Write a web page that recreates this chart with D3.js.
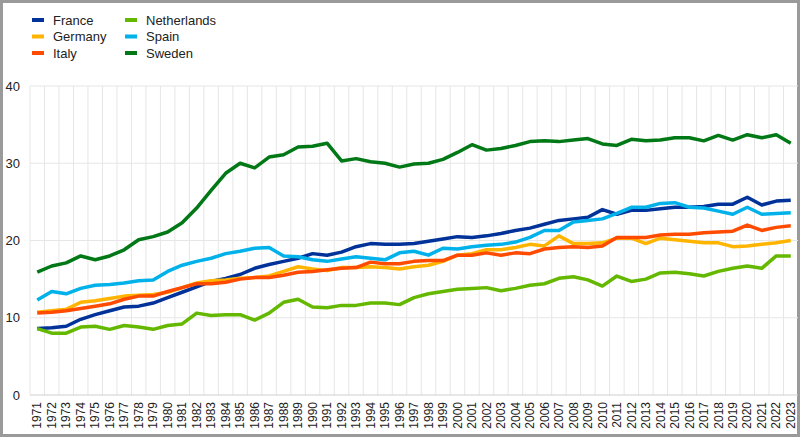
<!DOCTYPE html>
<html lang="en">
<head>
<meta charset="UTF-8">
<title>Chart</title>
<script src="https://d3js.org/d3.v7.min.js"></script>
<style>
  body { margin: 0; background: #fff; }
  text { font-family: "Liberation Sans", Arial, sans-serif; fill: #222; }
</style>
</head>
<body>
<div id="chart"></div>
<script>
// years on the x axis
var years = d3.range(1971, 2024)

var yTicks = [0, 10, 20, 30, 40]

var countries = ["France", "Germany", "Italy", "Netherlands", "Spain", "Sweden"]

var france = [8.6, 8.7, 8.9, 9.8, 10.4, 10.9, 11.4, 11.5, 11.9, 12.6, 13.3, 14.0, 14.7, 15.1, 15.6, 16.4, 16.9, 17.3, 17.7, 18.3,
  18.1, 18.5, 19.2, 19.6, 19.5, 19.5, 19.6, 19.9, 20.2, 20.5, 20.4, 20.6, 20.9, 21.3, 21.6, 22.1, 22.6, 22.8, 23.0, 24.0,
  23.4, 23.9, 23.9, 24.1, 24.3, 24.3, 24.4, 24.7, 24.7, 25.6, 24.6, 25.1, 25.2]
var germany = [10.7, 10.9, 11.1, 12.0, 12.2, 12.5, 12.8, 12.9, 13.0, 13.3, 13.9, 14.5, 14.8, 14.9, 15.1, 15.2, 15.4, 16.0, 16.6, 16.3,
  16.1, 16.5, 16.5, 16.6, 16.5, 16.3, 16.6, 16.8, 17.3, 18.1, 18.3, 18.8, 18.8, 19.1, 19.5, 19.3, 20.6, 19.6, 19.6, 19.7,
  20.3, 20.3, 19.6, 20.3, 20.1, 19.9, 19.7, 19.7, 19.2, 19.3, 19.5, 19.7, 20.0]
var italy = [10.6, 10.7, 10.9, 11.2, 11.5, 11.8, 12.4, 12.8, 12.8, 13.4, 13.9, 14.4, 14.4, 14.6, 15.0, 15.2, 15.2, 15.5, 15.9, 16.0,
  16.2, 16.4, 16.5, 17.2, 17.0, 17.0, 17.3, 17.4, 17.4, 18.1, 18.1, 18.4, 18.1, 18.4, 18.3, 18.9, 19.1, 19.2, 19.1, 19.3,
  20.4, 20.4, 20.4, 20.7, 20.8, 20.8, 21.0, 21.1, 21.2, 22.0, 21.3, 21.7, 21.9]
var netherlands = [8.6, 8.0, 8.0, 8.8, 8.9, 8.5, 9.0, 8.8, 8.5, 9.0, 9.2, 10.6, 10.3, 10.4, 10.4, 9.7, 10.6, 12.0, 12.4, 11.4,
  11.3, 11.6, 11.6, 11.9, 11.9, 11.7, 12.6, 13.1, 13.4, 13.7, 13.8, 13.9, 13.5, 13.8, 14.2, 14.4, 15.1, 15.3, 14.9, 14.1,
  15.4, 14.7, 15.0, 15.8, 15.9, 15.7, 15.4, 16.0, 16.4, 16.7, 16.4, 18.0, 18.0]
var spain = [12.3, 13.4, 13.1, 13.8, 14.2, 14.3, 14.5, 14.8, 14.9, 16.0, 16.8, 17.3, 17.7, 18.3, 18.6, 19.0, 19.1, 18.0, 17.9, 17.5,
  17.3, 17.6, 17.9, 17.7, 17.5, 18.4, 18.6, 18.1, 19.0, 18.9, 19.2, 19.4, 19.5, 19.8, 20.4, 21.3, 21.3, 22.4, 22.6, 22.8,
  23.5, 24.3, 24.3, 24.8, 24.9, 24.3, 24.2, 23.8, 23.4, 24.3, 23.4, 23.5, 23.6]
var sweden = [15.9, 16.7, 17.1, 18.0, 17.5, 18.0, 18.8, 20.1, 20.5, 21.1, 22.3, 24.2, 26.5, 28.7, 30.0, 29.4, 30.8, 31.1, 32.1, 32.2,
  32.6, 30.3, 30.6, 30.2, 30.0, 29.5, 29.9, 30.0, 30.5, 31.4, 32.4, 31.7, 31.9, 32.3, 32.8, 32.9, 32.8, 33.0, 33.2, 32.5,
  32.3, 33.1, 32.9, 33.0, 33.3, 33.3, 32.9, 33.6, 33.0, 33.7, 33.3, 33.7, 32.6]

var colors = ["#003299", "#ffb400", "#ff4b00", "#65b800", "#00b1ea", "#007816"]
var seriesValues = [france, germany, italy, netherlands, spain, sweden]

var width = 800
var height = 437
// plot box (note: "top" is reserved on window, so use m.*)
var m = { left: 30, right: 798, top: 86, bottom: 395 }

var svg = d3.select("#chart")
  .append("svg")
    .attr("width", width)
    .attr("height", height)

// outer frame
svg.append("rect")
  .attr("x", 1.5).attr("y", 1.5)
  .attr("width", width - 3).attr("height", height - 3)
  .attr("fill", "#fff")
  .attr("stroke", "#9a9a9a")
  .attr("stroke-width", 3)

var x = d3.scaleBand().domain(years).range([m.left, m.right]).padding(0)
var y = d3.scaleLinear().domain([0, 40]).range([m.bottom, m.top])

// vertical grid at band edges
svg.append("g")
  .selectAll("line")
  .data(years.slice(1))
  .enter()
  .append("line")
    .attr("x1", function(d) { return x(d) })
    .attr("x2", function(d) { return x(d) })
    .attr("y1", m.top)
    .attr("y2", m.bottom)
    .attr("stroke", "#e6e6e6")
    .attr("stroke-width", 1)

// horizontal grid
svg.append("g")
  .selectAll("line")
  .data(yTicks.slice(1))
  .enter()
  .append("line")
    .attr("x1", m.left)
    .attr("x2", m.right)
    .attr("y1", function(d) { return y(d) })
    .attr("y2", function(d) { return y(d) })
    .attr("stroke", "#e6e6e6")

// left edge and baseline
svg.append("line")
  .attr("x1", m.left).attr("x2", m.left).attr("y1", m.top).attr("y2", m.bottom)
  .attr("stroke", "#e6e6e6")
svg.append("line")
  .attr("x1", m.left).attr("x2", m.right).attr("y1", m.bottom).attr("y2", m.bottom)
  .attr("stroke", "#cfcfcf")

// y axis labels
var yAxis = svg.append("g")
  .attr("transform", "translate(20,0)")
  .call(d3.axisLeft(y).tickValues(yTicks).tickSize(0).tickPadding(0))
yAxis.select(".domain").remove()
yAxis.selectAll("text")
  .style("font-size", "13px")
  .attr("fill", "#222")

// x axis labels, rotated
var xAxis = svg.append("g")
  .attr("transform", "translate(0," + m.bottom + ")")
  .call(d3.axisBottom(x).tickSize(0).tickPadding(0))
xAxis.select(".domain").remove()
xAxis.selectAll("text")
  .style("font-size", "12px")
  .attr("fill", "#222")
  .attr("text-anchor", "end")
  .attr("transform", "rotate(-90)")
  .attr("x", -7)
  .attr("y", 0)
  .attr("dy", "0.35em")

// lines
var line = d3.line()
  .x(function(d, i) { return x(years[i]) + x.bandwidth() / 2 })
  .y(function(d) { return y(d) })

svg.append("g")
  .selectAll("path")
  .data(seriesValues)
  .enter()
  .append("path")
    .attr("d", line)
    .attr("fill", "none")
    .attr("stroke", function(d, i) { return colors[i] })
    .attr("stroke-width", 3.5)
    .attr("stroke-linejoin", "round")

// legend, two columns of three
var legend = svg.append("g")
  .selectAll("g")
  .data(countries)
  .enter()
  .append("g")
    .attr("transform", function(d, i) {
      return "translate(" + (i < 3 ? 32 : 125) + "," + (20 + (i % 3) * 16.5) + ")"
    })
legend.append("rect")
  .attr("x", 0).attr("y", -2)
  .attr("width", 12).attr("height", 4)
  .attr("fill", function(d, i) { return colors[i] })
legend.append("text")
  .attr("x", 21)
  .attr("y", 0)
  .attr("dy", "0.35em")
  .style("font-size", "13px")
  .text(function(d) { return d })
</script>
</body>
</html>
